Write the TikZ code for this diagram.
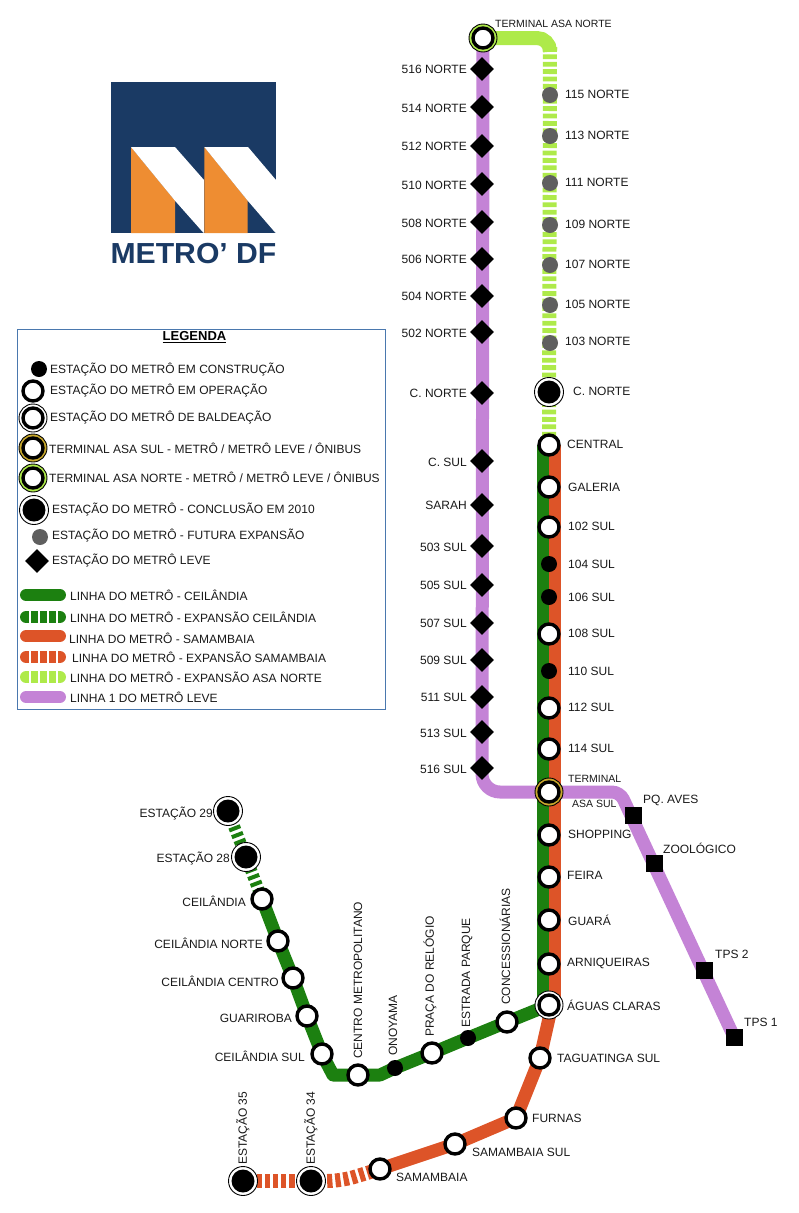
\documentclass[tikz,border=0pt]{standalone}
\usepackage{fontspec}
\setmainfont{Liberation Sans}
\usetikzlibrary{shapes.geometric,backgrounds}
\definecolor{lgreen}{HTML}{1C8010}
\definecolor{lorange}{HTML}{DD5428}
\definecolor{llime}{HTML}{AEEA4A}
\definecolor{lpurple}{HTML}{C483D6}
\definecolor{lgold}{HTML}{C8A82C}
\definecolor{lgray}{HTML}{5F5F5F}
\definecolor{navy}{HTML}{1A3A64}
\definecolor{logoor}{HTML}{EE8D32}
\definecolor{framec}{HTML}{4A78AE}
\tikzset{
  opst/.style={circle,draw=black,fill=white,line width=3.4pt,minimum size=20pt,inner sep=0pt},
  consst/.style={circle,fill=black,minimum size=16pt,inner sep=0pt},
  futst/.style={circle,fill=lgray,minimum size=16pt,inner sep=0pt},
  leve/.style={diamond,fill=black,minimum size=24pt,inner sep=0pt},
  sq/.style={rectangle,fill=black,minimum size=17pt,inner sep=0pt},
  ringo/.style={circle,draw=black,line width=.9pt,fill=white,minimum size=#1,inner sep=0pt},
  ringc/.style={circle,draw=black,line width=.9pt,fill=#1,minimum size=28pt,inner sep=0pt},
  txt/.style={font=\fontsize{12}{12}\selectfont,text=black!90,inner sep=0pt},
  txts/.style={font=\fontsize{10.5}{10.5}\selectfont,text=black!90,inner sep=0pt},
  lab/.style={txt,anchor=west},
  labr/.style={txt,anchor=east},
  labv/.style={txt,anchor=west,rotate=90},
  ln/.style={line width=13pt,draw=#1},
  dsh/.style={line width=14pt,draw=#1,dash pattern=on 4.8pt off 2.6pt},
  keyl/.style={line width=12pt,draw=#1,line cap=round},
  keyg/.style={line width=13pt,draw=white,dash pattern=on 2pt off 7pt},
}
\newcommand{\conclnode}[2]{%
  \node[ringo=29pt] at #2 {};
  \node[consst,minimum size=23pt] (#1) at #2 {};}
\newcommand{\baldnode}[2]{%
  \node[ringo=28pt] at #2 {};
  \node[opst] (#1) at #2 {};}
\newcommand{\termnode}[3]{%
  \node[ringc=#3] at #2 {};
  \node[opst] (#1) at #2 {};}
\begin{document}
\begin{tikzpicture}[x=1pt,y=-1pt]
\useasboundingbox (0,0) rectangle (799,1213);
% logo
\fill[navy] (111,82) rectangle (276,233);
\fill[logoor] (131,147) -- (175,200.7) -- (175,233) -- (131,233) -- cycle;
\fill[white] (131,147) -- (175,147) -- (204,180) -- (204,233) -- (203,232.3) -- (175,200.7) -- cycle;
\fill[logoor] (204.3,147) -- (247.7,200.7) -- (247.7,233) -- (204.3,233) -- cycle;
\fill[white] (204.3,147) -- (248,147) -- (276,180) -- (276,233) -- (275,232.3) -- (247.7,200.7) -- cycle;
\node[font=\fontsize{29}{29}\selectfont\bfseries,text=navy,inner sep=0pt,anchor=center,xscale=1.04] (logotxt) at (193.5,253.5) {METRO’ DF};
% legend
\draw[framec,line width=.9pt] (17,329) rectangle (385,709);
\node[font=\fontsize{13}{13}\selectfont\bfseries,inner sep=0pt] (legtitle) at (194.5,337) {\underline{LEGENDA}};
\node[consst] (k1) at (39,369) {};
\node[opst] (k2) at (33,391) {};
\baldnode{k3}{(33,418)}
\termnode{k4}{(33,448)}{lgold}
\termnode{k5}{(33,478)}{llime}
\conclnode{k6}{(34,510)}
\node[futst] (k7) at (40,537) {};
\node[leve] (k8) at (37,561) {};
\node[lab] (t1) at (50,369) {ESTAÇÃO DO METRÔ EM CONSTRUÇÃO};
\node[lab] (t2) at (50,390) {ESTAÇÃO DO METRÔ EM OPERAÇÃO};
\node[lab] (t3) at (50,417) {ESTAÇÃO DO METRÔ DE BALDEAÇÃO};
\node[lab] (t4) at (49,448) {TERMINAL ASA SUL - METRÔ / METRÔ LEVE / ÔNIBUS};
\node[lab] (t5) at (49,477) {TERMINAL ASA NORTE - METRÔ / METRÔ LEVE / ÔNIBUS};
\node[lab] (t6) at (52,509) {ESTAÇÃO DO METRÔ - CONCLUSÃO EM 2010};
\node[lab] (t7) at (52,535) {ESTAÇÃO DO METRÔ - FUTURA EXPANSÃO};
\node[lab] (t8) at (52,560) {ESTAÇÃO DO METRÔ LEVE};
\node[lab] (t9) at (70,595) {LINHA DO METRÔ - CEILÂNDIA};
\node[lab] (t10) at (70,617) {LINHA DO METRÔ - EXPANSÃO CEILÂNDIA};
\node[lab] (t11) at (69,638) {LINHA DO METRÔ - SAMAMBAIA};
\node[lab] (t12) at (72,657) {LINHA DO METRÔ - EXPANSÃO SAMAMBAIA};
\node[lab] (t13) at (70,677) {LINHA DO METRÔ - EXPANSÃO ASA NORTE};
\node[lab] (t14) at (70,697) {LINHA 1 DO METRÔ LEVE};
\draw[keyl=lgreen] (26,595) -- (60,595);
\draw[keyl=lgreen] (26,617) -- (60,617);
\draw[keyg] (29,617) -- (62,617);
\draw[keyl=lorange] (26,636) -- (60,636);
\draw[keyl=lorange] (26,657) -- (60,657);
\draw[keyg] (29,657) -- (62,657);
\draw[keyl=llime] (26,677) -- (60,677);
\draw[keyg] (29,677) -- (62,677);
\draw[keyl=lpurple] (26,697) -- (60,697);
% light metro diamonds
\foreach \n/\y/\ly/\t in {a/69/69/516 NORTE,b/107/108/514 NORTE,c/146/146/512 NORTE,d/184/185/510 NORTE,e/222/223/508 NORTE,f/259/259/506 NORTE,g/296/296/504 NORTE,h/332/333/502 NORTE,i/393/393/C. NORTE,j/461/462/C. SUL,k/505/505/SARAH,l/546/547/503 SUL,m/585/585/505 SUL,o/623/623/507 SUL,p/660/660/509 SUL,q/697/697/511 SUL,r/732/733/513 SUL,s/768/769/516 SUL}{
  \node[leve] (d\n) at (482,\y) {};
  \node[labr] (ld\n) at (467,\ly) {\t};
}
% future stations
\foreach \n/\y/\ly/\t in {a/95/94/115 NORTE,b/136/135/113 NORTE,c/183/182/111 NORTE,d/225/224/109 NORTE,e/265/264/107 NORTE,f/305/304/105 NORTE,g/343/341/103 NORTE}{
  \node[futst] (f\n) at (550,\y) {};
  \node[lab] (lf\n) at (565,\ly) {\t};
}
% trunk
\conclnode{cnorte}{(549,392)}
\node[lab] (lcnorte) at (573,391) {C. NORTE};
\foreach \n/\y/\ly/\lx/\t in {central/445/444/567/CENTRAL,galeria/487/487/568/GALERIA,s102/527/526/568/102 SUL,s108/634/633/568/108 SUL,s112/708/707/568/112 SUL,s114/749/748/568/114 SUL,shopping/835/834/568/SHOPPING,feira/877/875/567/FEIRA,guara/920/920/568/GUARÁ,arni/964/963/567/ARNIQUEIRAS}{
  \node[opst] (\n) at (549,\y) {};
  \node[lab] (l\n) at (\lx,\ly) {\t};
}
\foreach \n/\y/\t in {s104/564/104 SUL,s106/597/106 SUL,s110/671/110 SUL}{
  \node[consst] (\n) at (549,\y) {};
  \node[lab] (l\n) at (568,\y) {\t};
}
\termnode{tan}{(483,38)}{llime}
\termnode{tas}{(549,792)}{lgold}
\baldnode{aguas}{(549,1005)}
\node[txts,anchor=west] (ltan) at (495,24) {TERMINAL ASA NORTE};
\node[txts,anchor=west] (ltas) at (568,779) {TERMINAL};
\node[txts,anchor=west] (ltas2) at (572,804) {ASA SUL};
\node[lab] (laguas) at (567,1005) {ÁGUAS CLARAS};
% Samambaia branch
\node[opst] (tagua) at (540,1058) {};
\node[lab] (ltagua) at (557,1058) {TAGUATINGA SUL};
\node[opst] (furnas) at (516,1118) {};
\node[lab] (lfurnas) at (532,1118) {FURNAS};
\node[opst] (samsul) at (455,1144) {};
\node[lab] (lsamsul) at (472,1152) {SAMAMBAIA SUL};
\node[opst] (sam) at (380,1169) {};
\node[lab] (lsam) at (396,1177) {SAMAMBAIA};
\conclnode{e34}{(311,1181)}
\conclnode{e35}{(243,1181)}
\node[labv] (le34) at (311,1165) {ESTAÇÃO 34};
\node[labv] (le35) at (243,1165) {ESTAÇÃO 35};
% Ceilandia branch
\node[opst] (conc) at (507,1022) {};
\node[consst] (estr) at (468,1038) {};
\node[opst] (praca) at (432,1053) {};
\node[consst] (ono) at (395,1068) {};
\node[opst] (centro) at (358,1075) {};
\node[opst] (csul) at (322,1054) {};
\node[opst] (guar) at (307,1016) {};
\node[opst] (ccen) at (293,978) {};
\node[opst] (cnor) at (278,941) {};
\node[opst] (ceil) at (262,899) {};
\conclnode{e28}{(246,857)}
\conclnode{e29}{(228,811)}
\node[labv] (lconc) at (505,1005) {CONCESSIONÁRIAS};
\node[labv] (lestr) at (467,1028) {ESTRADA PARQUE};
\node[labv] (lpraca) at (430,1037) {PRAÇA DO RELÓGIO};
\node[labv] (lono) at (393,1056) {ONOYAMA};
\node[labv] (lcentro) at (358,1059) {CENTRO METROPOLITANO};
\node[labr] (lcsul) at (305,1056) {CEILÂNDIA SUL};
\node[labr] (lguar) at (292,1018) {GUARIROBA};
\node[labr] (lccen) at (279,981) {CEILÂNDIA CENTRO};
\node[labr] (lcnor) at (263,943) {CEILÂNDIA NORTE};
\node[labr] (lceil) at (246,901) {CEILÂNDIA};
\node[labr] (le28) at (230,858) {ESTAÇÃO 28};
\node[labr] (le29) at (213,813) {ESTAÇÃO 29};
% light metro east branch
\node[sq] (pq) at (633,815) {};
\node[sq] (zoo) at (654,863) {};
\node[sq] (tps2) at (704,970) {};
\node[sq] (tps1) at (734,1037) {};
\node[lab] (lpq) at (643,800) {PQ. AVES};
\node[lab] (lzoo) at (663,848) {ZOOLÓGICO};
\node[lab] (ltps2) at (715,954) {TPS 2};
\node[lab] (ltps1) at (744,1022) {TPS 1};
\coordinate (cpa) at (482,792);
\coordinate (cpb) at (620,792);
\coordinate (cna) at (550,38);
\coordinate (cnb) at (550,47);
\coordinate (cba) at (333,1075);
\coordinate (cbb) at (380,1075);
\coordinate (csa) at (341,1181);
\begin{scope}[on background layer]
  \draw[ln=lpurple,rounded corners=18pt] (tan.center) -- (cpa) -- (tas.center);
  \draw[ln=lpurple,rounded corners=8pt] (tas.center) -- (cpb) -- (tps1.center);
  \draw[line width=14pt,draw=llime,rounded corners=13pt] (tan.center) -- (cna) -- (cnb);
  \draw[dsh=llime] (cnb) -- (central.center);
  \draw[line width=12.5pt,draw=lgreen] ([xshift=-5.6pt]central.center) -- ([xshift=-5.6pt]aguas.center);
  \draw[line width=12.5pt,draw=lorange] ([xshift=6pt]central.center) -- ([xshift=6pt]aguas.center);
  \draw[ln=lorange] ([xshift=3pt]aguas.center) -- (tagua.center) -- (furnas.center) -- (samsul.center) -- (sam.center);
  \draw[line width=14pt,draw=lorange,dash pattern=on 5.2pt off 3pt,rounded corners=14pt] (sam.center) -- (csa) -- (e34.center);
  \draw[line width=14pt,draw=lorange,dash pattern=on 5.2pt off 3pt] (e34.center) -- (e35.center);
  \draw[ln=lgreen,line join=round] (aguas.center) -- (conc.center) -- (estr.center) -- (praca.center) -- (ono.center) -- (cbb) -- (centro.center) -- (cba) -- (csul.center) -- (guar.center) -- (ccen.center) -- (cnor.center) -- (ceil.center);
  \draw[line width=12pt,draw=lgreen,dash pattern=on 4pt off 3.2pt] (ceil.center) -- (e28.center);
  \draw[line width=12pt,draw=lgreen,dash pattern=on 4pt off 3.2pt] (e28.center) -- (e29.center);
\end{scope}
\end{tikzpicture}
\end{document}
